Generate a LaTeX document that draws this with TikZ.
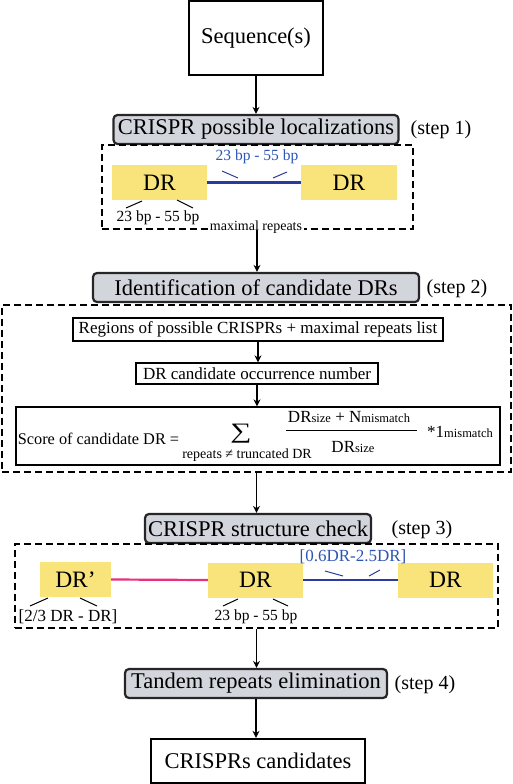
\documentclass[tikz,border=0pt]{standalone}
\usepackage{fontspec}
\setmainfont{Liberation Serif}
\usetikzlibrary{arrows.meta}
\definecolor{stepgray}{HTML}{D3D5DC}
\definecolor{dryellow}{HTML}{F9E47C}
\definecolor{lineblue}{HTML}{2A3A9E}
\definecolor{textblue}{HTML}{2D55B4}
\definecolor{linepink}{HTML}{E8307C}
\tikzset{
 fbig/.style={font=\fontsize{22.5}{24}\selectfont},
 stepbox/.style={draw=black!85, line width=2.2pt, rounded corners=4pt, fill=stepgray, inner sep=0pt, fbig},
 plainbox/.style={draw, line width=1.3pt, inner sep=0pt, font=\fontsize{17}{19}\selectfont},
 endbox/.style={draw, line width=2.3pt, inner sep=0pt, fbig},
 drbox/.style={fill=dryellow, inner sep=0pt, font=\fontsize{23.5}{25}\selectfont},
 dashbox/.style={draw, line width=2pt, dash pattern=on 7pt off 4pt, inner sep=0pt},
 flow/.style={line width=1.9pt, -{Stealth[length=7pt,width=7pt]}},
 steplabel/.style={font=\fontsize{20}{22}\selectfont, inner sep=0pt},
 smalltxt/.style={font=\fontsize{17}{19}\selectfont, inner sep=0pt},
 scoretxt/.style={font=\fontsize{16.3}{18}\selectfont, inner sep=0pt},
 bptxt/.style={font=\fontsize{15.5}{17}\selectfont, inner sep=0pt},
 tinytxt/.style={font=\fontsize{14}{16}\selectfont, inner sep=0pt},
 tickline/.style={line width=1pt},
 bluetick/.style={line width=1pt, draw=lineblue},
}
\newcommand{\sm}[1]{{\fontsize{12.5}{14}\selectfont #1}}
\begin{document}
\begin{tikzpicture}[x=1pt,y=-1pt]
\useasboundingbox (0,0) rectangle (513,784);

% top box
\node (seq) [endbox, minimum width=134, minimum height=74] at (256,38) {Sequence(s)};

% step 1
\node (loc) [stepbox, minimum width=285, minimum height=29] at (256,129.5) {CRISPR possible localizations};
\node (s1) [steplabel] at (441,130) {(step 1)};
\node (box1) [dashbox, minimum width=311, minimum height=84] at (257,187) {};
\node (dra) [drbox, minimum width=95, minimum height=35] at (159.5,182.5) {DR};
\node (drb) [drbox, minimum width=96, minimum height=35] at (349,182.5) {DR};
\draw[lineblue, line width=2.6pt] (dra.east) -- (drb.west);
\node (l1) [bptxt, text=textblue] at (257,157) {23 bp - 55 bp};
\draw[bluetick] (222,171) -- (238,178);
\draw[bluetick] (273,178) -- (287,172);
\draw[tickline] (142,201) -- (126,208);
\draw[tickline] (177,200) -- (193,208);
\node (l2) [bptxt] at (158,218) {23 bp - 55 bp};
\node (mr) [tinytxt, fill=white, inner xsep=2pt, inner ysep=1pt] at (256,227) {maximal repeats};

% step 2
\node (ident) [stepbox, minimum width=326, minimum height=29] at (256,287.5) {Identification of candidate DRs};
\node (s2) [steplabel] at (457,289) {(step 2)};
\node (box2) [dashbox, minimum width=509, minimum height=167] at (256.5,388.5) {};
\node (reg) [plainbox, minimum width=370, minimum height=23] at (258,329.5) {Regions of possible CRISPRs + maximal repeats list};
\node (occ) [plainbox, minimum width=242, minimum height=21] at (257,373.5) {DR candidate occurrence number};
\node (score) [draw, line width=1.3pt, minimum width=484, minimum height=58, inner sep=0pt] at (258,436) {};
\node (sc) [scoretxt] at (98.5,439) {Score of candidate DR =};
\node (sum) [inner sep=0pt, font=\fontsize{22}{24}\selectfont, xscale=1.35] at (241,434) {∑};
\node (num) [smalltxt] at (349,417) {DR\sm{size} + N\sm{mismatch}};
\draw[line width=0.9pt] (286,430) -- (417,430);
\node (den) [smalltxt] at (353,447) {DR\sm{size}};
\node (mul) [smalltxt] at (460,432) {*1\sm{mismatch}};
\node (rep) [tinytxt] at (247,455) {repeats ≠ truncated DR};

% step 3
\node (check) [stepbox, minimum width=226, minimum height=29] at (258,528.5) {CRISPR structure check};
\node (s3) [steplabel] at (422,530) {(step 3)};
\node (box3) [dashbox, minimum width=483, minimum height=84] at (256.5,586) {};
\node (drp) [drbox, minimum width=71, minimum height=35] at (75.5,579.5) {DR’};
\node (drc) [drbox, minimum width=95, minimum height=35] at (255.5,580) {DR};
\node (drd) [drbox, minimum width=95, minimum height=35] at (445.5,580) {DR};
\draw[linepink, line width=2.2pt] (drp.east) -- (drc.west);
\draw[lineblue, line width=2.6pt] (drc.east) -- (drd.west);
\node (l3) [smalltxt, text=textblue] at (353,557) {[0.6DR-2.5DR]};
\draw[bluetick] (325,571) -- (343,576);
\draw[bluetick] (369,576) -- (380,570);
\draw[tickline] (48,598) -- (30,606);
\draw[tickline] (80,598) -- (97,606);
\node (l4) [smalltxt] at (68,617) {[2/3 DR - DR]};
\draw[tickline] (238,599) -- (223,606);
\draw[tickline] (273,599) -- (288,606);
\node (l5) [bptxt] at (256,617) {23 bp - 55 bp};

% step 4
\node (tand) [stepbox, minimum width=262, minimum height=29] at (256,683.5) {Tandem repeats elimination};
\node (s4) [steplabel] at (425,685) {(step 4)};
\node (out) [endbox, minimum width=214, minimum height=44] at (258,761) {CRISPRs candidates};

% flow arrows
\draw[flow] (seq.south) -- (seq.south |- loc.north);
\draw[flow] (box1.south) -- (box1.south |- ident.north);
\draw[flow] (reg.south) -- (reg.south |- occ.north);
\draw[flow] (occ.south) -- (occ.south |- score.north);
\draw[flow] (box2.south) -- (box2.south |- check.north);
\draw[flow] (box3.south) -- (box3.south |- tand.north);
\draw[flow] (tand.south) -- (tand.south |- out.north);
\end{tikzpicture}
\end{document}
